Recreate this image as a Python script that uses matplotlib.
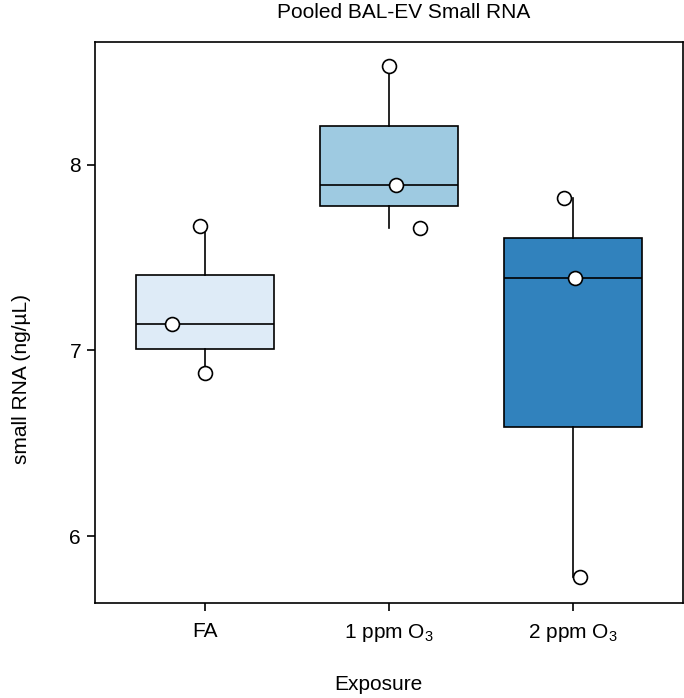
import numpy as np
import matplotlib
matplotlib.use("Agg")
import matplotlib.pyplot as plt

plt.rcParams['font.family'] = ['Liberation Sans', 'DejaVu Sans']
plt.rcParams['mathtext.fontset'] = 'custom'
plt.rcParams['mathtext.rm'] = 'Liberation Sans'
plt.rcParams['mathtext.it'] = 'Liberation Sans'

# pooled small RNA per exposure group (ng/uL)
groups = ['FA', '1 ppm O$_3$', '2 ppm O$_3$']
fa = [7.67, 7.14, 6.88]
ppm1 = [8.53, 7.89, 7.66]
ppm2 = [7.82, 7.39, 5.78]
box_colors = ['#deebf7', '#9ecae1', '#3182bd']
# horizontal jitter of the points
jitter = [[-0.03, -0.18, 0.0], [0.0, 0.04, 0.17], [-0.05, 0.01, 0.04]]

data = [fa, ppm1, ppm2]

W, H = 684, 698
fig = plt.figure(figsize=(W / 100, H / 100), dpi=100)
ax = fig.add_axes([95/W, 95/H, 588/W, 561/H])

bp = ax.boxplot(data, positions=[0, 1, 2], widths=0.75, patch_artist=True,
                showcaps=False, showfliers=False,
                medianprops=dict(color='black', linewidth=1.2),
                whiskerprops=dict(color='black', linewidth=1.2),
                boxprops=dict(edgecolor='black', linewidth=1.2))
for patch, c in zip(bp['boxes'], box_colors):
    patch.set_facecolor(c)

for i, vals in enumerate(data):
    xs = [i + j for j in jitter[i]]
    ax.plot(xs, vals, 'o', markersize=10, markerfacecolor='white',
            markeredgecolor='black', markeredgewidth=1.2, zorder=5)

ax.set_xlim(-0.6, 2.6)
ax.set_ylim(5.64, 8.66)
ax.set_yticks([6, 7, 8])
ax.set_xticks([0, 1, 2])
ax.set_xticklabels(groups)
ax.tick_params(labelsize=15, length=6, width=1.2, direction='out', pad=4)
ax.tick_params(axis='x', pad=8)
for s in ax.spines.values():
    s.set_linewidth(1.2)

# titles and axis labels
fig.text(403.5/W, 1 - 12/H, 'Pooled BAL-EV Small RNA', fontsize=15,
         ha='center', va='center')
fig.text(378.5/W, 1 - 685/H, 'Exposure', fontsize=15,
         ha='center', va='center')
fig.text(22/W, 1 - 379.5/H, 'small RNA (ng/µL)', fontsize=15,
         ha='center', va='center', rotation=90)

fig.savefig('out.png', dpi=100)
